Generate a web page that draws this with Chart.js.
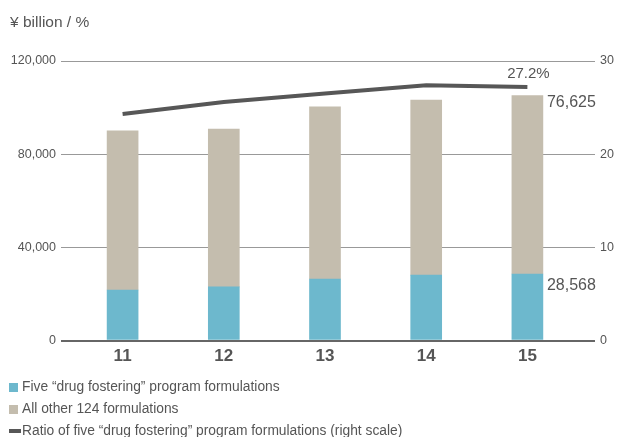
<!DOCTYPE html>
<html>
<head>
<meta charset="utf-8">
<script src="https://cdn.jsdelivr.net/npm/chart.js@4.4.1/dist/chart.umd.min.js"></script>
<style>
  html, body { margin: 0; padding: 0; background: #fff; }
  #wrap { position: relative; width: 617px; height: 437px; font-family: "Liberation Sans", Arial, sans-serif; color: #555; }
  #chart { position: absolute; left: 0; top: 0; }
  #unit { position: absolute; left: 10px; top: 13px; font-size: 15.5px; }
  #legend { position: absolute; left: 9px; top: 376px; font-size: 13.8px; line-height: 22px; }
  #legend .item { display: flex; align-items: center; white-space: nowrap; height: 22px; }
  #legend .box { width: 9px; height: 9px; margin-right: 4px; }
  #legend .bar { width: 12px; height: 4px; margin-right: 1px; background: #575757; }
</style>
</head>
<body>
<div id="wrap">
  <canvas id="chart" width="617" height="437"></canvas>
  <div id="unit">¥ billion / %</div>
  <div id="legend"></div>
</div>
<script>
// Fiscal years on the category axis
const years = ['11', '12', '13', '14', '15'];

// Sales, ¥ billion
const drugFostering = [21700, 23000, 26400, 28100, 28568];
const otherFormulations = [68300, 67800, 73900, 75100, 76625];

// Share of the five formulations, % (right scale)
const ratio = [24.3, 25.6, 26.5, 27.4, 27.2];

const leftTicks = [0, 40000, 80000, 120000];
const rightTicks = [0, 10, 20, 30];

const legendItems = [
  { text: 'Five “drug fostering” program formulations', color: '#6db8cd', kind: 'box' },
  { text: 'All other 124 formulations', color: '#c4bdae', kind: 'box' },
  { text: 'Ratio of five “drug fostering” program formulations (right scale)', color: '#575757', kind: 'bar' }
];

const legend = document.getElementById('legend');
legendItems.forEach(item => {
  const row = document.createElement('div');
  row.className = 'item';
  const mark = document.createElement('span');
  mark.className = item.kind;
  mark.style.background = item.color;
  row.appendChild(mark);
  row.appendChild(document.createTextNode(item.text));
  legend.appendChild(row);
});

const fmt = n => n.toLocaleString('en-US');

// Value labels beside the last bar and above the last ratio point
const endLabels = {
  id: 'endLabels',
  afterDatasetsDraw(chart) {
    const ctx = chart.ctx;
    const last = years.length - 1;
    ctx.save();
    ctx.fillStyle = '#555';
    ctx.font = '16px "Liberation Sans", Arial, sans-serif';
    ctx.textAlign = 'left';
    ctx.textBaseline = 'middle';

    const blue = chart.getDatasetMeta(0).data[last];
    const beige = chart.getDatasetMeta(1).data[last];
    const right = beige.x + beige.width / 2 + 4;
    ctx.fillText(fmt(otherFormulations[last]), right, beige.y + 7);
    ctx.fillText(fmt(drugFostering[last]), right, blue.y + 12);

    const pt = chart.getDatasetMeta(2).data[last];
    ctx.font = '15px "Liberation Sans", Arial, sans-serif';
    ctx.textAlign = 'center';
    ctx.fillText(ratio[last].toFixed(1) + '%', pt.x + 1, pt.y - 13);
    ctx.restore();
  }
};

const gridColor = c => (c.tick && c.tick.value === 0 ? '#666' : '#999');
const gridWidth = c => (c.tick && c.tick.value === 0 ? 2 : 1);

new Chart(document.getElementById('chart'), {
  data: {
    labels: years,
    datasets: [
      {
        type: 'bar',
        label: 'Five “drug fostering” program formulations',
        data: drugFostering,
        backgroundColor: '#6db8cd',
        yAxisID: 'y',
        stack: 'sales',
        barThickness: 31,
        order: 2
      },
      {
        type: 'bar',
        label: 'All other 124 formulations',
        data: otherFormulations,
        backgroundColor: '#c4bdae',
        yAxisID: 'y',
        stack: 'sales',
        barThickness: 31,
        order: 2
      },
      {
        type: 'line',
        label: 'Ratio of five “drug fostering” program formulations (right scale)',
        data: ratio,
        borderColor: '#575757',
        borderWidth: 4,
        pointRadius: 0,
        tension: 0,
        yAxisID: 'y1',
        order: 1
      }
    ]
  },
  options: {
    responsive: false,
    animation: false,
    layout: { padding: { top: 61, left: 0, right: 0, bottom: 0 } },
    plugins: {
      legend: { display: false },
      tooltip: { enabled: false }
    },
    scales: {
      x: {
        stacked: true,
        grid: { display: false, drawTicks: false },
        border: { display: false },
        ticks: {
          color: '#555',
          padding: 6,
          font: { family: '"Liberation Sans", Arial, sans-serif', size: 17, weight: 'bold' }
        },
        afterFit: s => { s.height = 96.5; }
      },
      y: {
        position: 'left',
        stacked: true,
        min: 0,
        max: 120000,
        afterBuildTicks: s => { s.ticks = leftTicks.map(v => ({ value: v })); },
        grid: { color: gridColor, lineWidth: gridWidth, tickLength: 11, tickColor: gridColor },
        border: { display: false },
        ticks: {
          color: '#555',
          padding: 5,
          font: { family: '"Liberation Sans", Arial, sans-serif', size: 12.5 },
          callback: v => fmt(v)
        },
        afterFit: s => { s.width = 72; }
      },
      y1: {
        position: 'right',
        min: 0,
        max: 30,
        afterBuildTicks: s => { s.ticks = rightTicks.map(v => ({ value: v })); },
        grid: { drawOnChartArea: false, color: gridColor, lineWidth: gridWidth, tickLength: 17, tickColor: gridColor },
        border: { display: false },
        ticks: {
          color: '#555',
          padding: 5,
          font: { family: '"Liberation Sans", Arial, sans-serif', size: 12.5 }
        },
        afterFit: s => { s.width = 39; }
      }
    }
  },
  plugins: [endLabels]
});
</script>
</body>
</html>
